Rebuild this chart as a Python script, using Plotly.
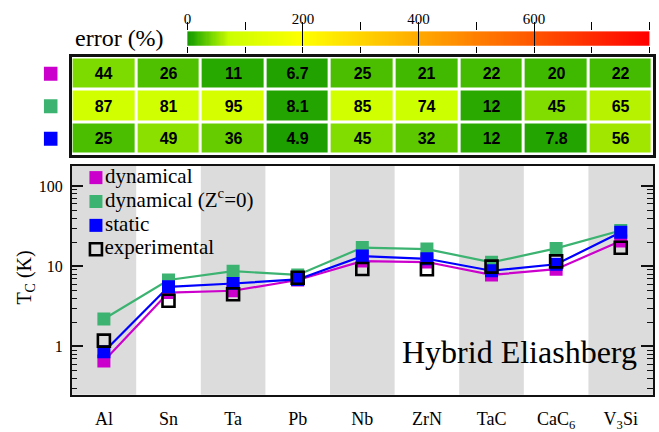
import numpy as np
import plotly.graph_objects as go

# ---------------- data ----------------
materials = ["Al", "Sn", "Ta", "Pb", "Nb", "ZrN", "TaC", "CaC<sub>6</sub>", "V<sub>3</sub>Si"]

tc_dynamical = [0.66, 4.7, 4.95, 6.75, 11.6, 11.3, 7.8, 9.2, 20.7]
tc_dynamical_zc0 = [2.2, 6.75, 8.7, 7.8, 17.1, 16.4, 11.2, 16.7, 28.0]
tc_static = [0.86, 5.55, 6.1, 6.85, 13.4, 12.4, 8.8, 10.6, 26.5]
tc_experimental = [1.18, 3.72, 4.48, 7.2, 9.25, 9.2, 9.9, 11.5, 17.0]

err_dynamical = [44, 26, 11, 6.7, 25, 21, 22, 20, 22]
err_dynamical_zc0 = [87, 81, 95, 8.1, 85, 74, 12, 45, 65]
err_static = [25, 49, 36, 4.9, 45, 32, 12, 7.8, 56]
err_labels = [["44", "26", "11", "6.7", "25", "21", "22", "20", "22"],
              ["87", "81", "95", "8.1", "85", "74", "12", "45", "65"],
              ["25", "49", "36", "4.9", "45", "32", "12", "7.8", "56"]]

legend_labels = ["dynamical", "dynamical (Z<sup>c</sup>=0)", "static", "experimental"]

y_tickvals = [1, 10, 100]
cbar_tickvals = [0, 200, 400, 600, 800]

# ---------------- styles ----------------
W, H = 659, 432
SERIF = "Liberation Serif, Times New Roman, serif"
SANS = "Liberation Sans, Arial, sans-serif"
C_DYN = "#cc00cc"
C_ZC0 = "#3cb371"
C_STA = "#0000ff"
BAND = "#dcdcdc"

err_colorscale = [
    [0.0, "rgb(20,150,0)"],
    [0.008, "rgb(32,162,0)"],
    [0.015, "rgb(42,170,0)"],
    [0.0275, "rgb(68,187,0)"],
    [0.032, "rgb(78,191,0)"],
    [0.045, "rgb(102,204,0)"],
    [0.056, "rgb(128,221,0)"],
    [0.07, "rgb(160,230,0)"],
    [0.081, "rgb(182,242,0)"],
    [0.092, "rgb(204,255,0)"],
    [0.25, "rgb(255,255,0)"],
    [1.0, "rgb(255,0,0)"],
]


def fx(px):
    return px / W


def fy(py):
    return 1 - py / H


fig = go.Figure()

# ---------------- main panel ----------------
n = len(materials)
xi = list(range(n))
for i in range(0, n, 2):
    fig.add_shape(type="rect", x0=i - 0.5, x1=i + 0.5, y0=0, y1=1, xref="x", yref="y domain",
                  fillcolor=BAND, line_width=0, layer="below")

series = [
    (tc_dynamical_zc0, C_ZC0),
    (tc_dynamical, C_DYN),
    (tc_static, C_STA),
]
for vals, col in series:
    fig.add_trace(go.Scatter(x=xi, y=vals, mode="lines", line=dict(color=col, width=2.2),
                             showlegend=False, hoverinfo="skip"))
for vals, col in series:
    fig.add_trace(go.Scatter(x=xi, y=vals, mode="markers", showlegend=False, hoverinfo="skip",
                             marker=dict(symbol="square", size=13, color=col, opacity=1,
                                         line=dict(width=0))))
fig.add_trace(go.Scatter(x=xi, y=tc_experimental, mode="markers", showlegend=False,
                         hoverinfo="skip",
                         marker=dict(symbol="square-open", size=12, color="black", opacity=1,
                                     line=dict(width=2.6, color="black"))))

# legend (inside the main panel)
fig.add_trace(go.Scatter(
    x=[0.5] * 4, y=list(range(4)), mode="markers+text", text=legend_labels,
    textposition="middle right", cliponaxis=False, showlegend=False, hoverinfo="skip",
    textfont=dict(family=SERIF, size=21, color="black"),
    marker=dict(symbol=["square", "square", "square", "square-open"], opacity=1,
                size=[13, 13, 13, 12], color=[C_DYN, C_ZC0, C_STA, "black"],
                line=dict(width=[0, 0, 0, 2.6], color="black")),
    xaxis="x7", yaxis="y7"))

# ---------------- error table ----------------
z_table = [err_dynamical, err_dynamical_zc0, err_static]
fig.add_trace(go.Heatmap(
    z=z_table, x=xi, y=[0, 1, 2], text=err_labels, texttemplate="<b>%{text}</b>",
    textfont=dict(family=SANS, size=16, color="black"),
    colorscale=err_colorscale, zmin=0, zmax=800, showscale=False, xgap=3, ygap=3,
    xaxis="x2", yaxis="y2", hoverinfo="skip"))

fig.add_trace(go.Scatter(x=[0.5, 0.5, 0.5], y=[0, 1, 2], mode="markers", showlegend=False,
                         marker=dict(symbol="square", size=14, opacity=1,
                                     color=[C_DYN, C_ZC0, C_STA]),
                         xaxis="x6", yaxis="y2", hoverinfo="skip"))

# ---------------- colour bar ----------------
grad = np.linspace(0, 800, 401)
fig.add_trace(go.Heatmap(z=[grad], x=grad, y=[0], colorscale=err_colorscale, zmin=0, zmax=800,
                         showscale=False, xaxis="x3", yaxis="y3", hoverinfo="skip"))
fig.add_trace(go.Scatter(x=[], y=[], xaxis="x4", yaxis="y3", showlegend=False))
fig.add_trace(go.Scatter(x=[], y=[], xaxis="x5", yaxis="y3", showlegend=False))

minor_log = [m * 10 ** e for e in range(-1, 3) for m in range(2, 10)]

axis_line = dict(showline=True, linecolor="#111", linewidth=1.5, mirror=True,
                 showgrid=False, zeroline=False)

fig.update_layout(
    width=W, height=H, margin=dict(l=0, r=0, t=0, b=0, pad=0),
    paper_bgcolor="white", plot_bgcolor="rgba(0,0,0,0)",
    font=dict(family=SERIF, color="black"),
    showlegend=False,
    xaxis=dict(domain=[fx(68), fx(653)], range=[-0.5, n - 0.5], tickvals=xi, ticktext=materials,
               ticks="", tickfont=dict(family=SERIF, size=18), ticklabelstandoff=7,
               anchor="y", **axis_line),
    yaxis=dict(domain=[fy(405), fy(170)], type="log", range=[np.log10(0.25), np.log10(180)],
               tickvals=y_tickvals, ticktext=[str(v) for v in y_tickvals],
               ticks="inside", ticklen=12, tickwidth=1.5, tickcolor="#111",
               minor=dict(tickvals=minor_log, ticks="inside", ticklen=6, tickwidth=1.3,
                          tickcolor="#111", showgrid=False),
               tickfont=dict(family=SERIF, size=16), ticklabelstandoff=4,
               anchor="x", showline=True, linecolor="#111", linewidth=1.5, mirror="ticks",
               showgrid=False, zeroline=False),
    xaxis7=dict(domain=[fx(86), fx(99)], range=[0, 1], anchor="y7", visible=False),
    yaxis7=dict(domain=[fy(268), fy(170)], range=[3.5, -0.5], anchor="x7", visible=False),
    xaxis2=dict(domain=[fx(68), fx(653)], range=[-0.5, n - 0.5], anchor="y2",
                showticklabels=False, ticks="", showline=True, linecolor="#111", linewidth=2.5,
                mirror=True, showgrid=False, zeroline=False),
    yaxis2=dict(domain=[fy(159), fy(59)], range=[2.5, -0.5], anchor="x2",
                showticklabels=False, ticks="", showline=True, linecolor="#111", linewidth=2.5,
                mirror=True, showgrid=False, zeroline=False),
    xaxis6=dict(domain=[fx(40), fx(54)], range=[0, 1], anchor="y2", visible=False),
    xaxis3=dict(domain=[fx(184.5), fx(649.5)], range=[0, 800], anchor="y3", side="top",
                tickvals=cbar_tickvals, ticks="outside", ticklen=8, tickwidth=1.2,
                tickcolor="black", tickfont=dict(family=SERIF, size=15), ticklabelstandoff=-8,
                minor=dict(dtick=100, ticks="outside", ticklen=8, tickwidth=1.2,
                           tickcolor="black", showgrid=False),
                showline=False, showgrid=False, zeroline=False),
    xaxis4=dict(domain=[fx(184.5), fx(649.5)], range=[0, 800], anchor="y3", overlaying="x3",
                side="bottom", tickvals=cbar_tickvals, ticks="inside", ticklen=22, tickwidth=1.2,
                tickcolor="black", showticklabels=False, showline=False, showgrid=False,
                zeroline=False),
    xaxis5=dict(domain=[fx(184.5), fx(649.5)], range=[0, 800], anchor="y3", overlaying="x3",
                side="bottom", dtick=100, tick0=0, ticks="outside", ticklen=6, tickwidth=1.2,
                tickcolor="black", showticklabels=False, showline=False, showgrid=False,
                zeroline=False),
    yaxis3=dict(domain=[fy(47), fy(32)], range=[-0.5, 0.5], anchor="x3", visible=False),
    annotations=[
        dict(text="T<sub>C</sub> (K)", x=fx(22), y=fy(285), xref="paper", yref="paper",
             textangle=-90, showarrow=False, font=dict(family=SERIF, size=20),
             xanchor="center", yanchor="middle"),
        dict(text="Hybrid Eliashberg", x=fx(639), y=fy(361), xref="paper", yref="paper",
             showarrow=False, font=dict(family=SERIF, size=32), xanchor="right",
             yanchor="middle"),
        dict(text="error (%)", x=fx(116), y=fy(39), xref="paper", yref="paper",
             showarrow=False, font=dict(family=SERIF, size=24), xanchor="center",
             yanchor="middle"),
    ],
)

fig.write_html("out.html", config={"displayModeBar": False},
               post_script="document.body.style.margin='0px';")
